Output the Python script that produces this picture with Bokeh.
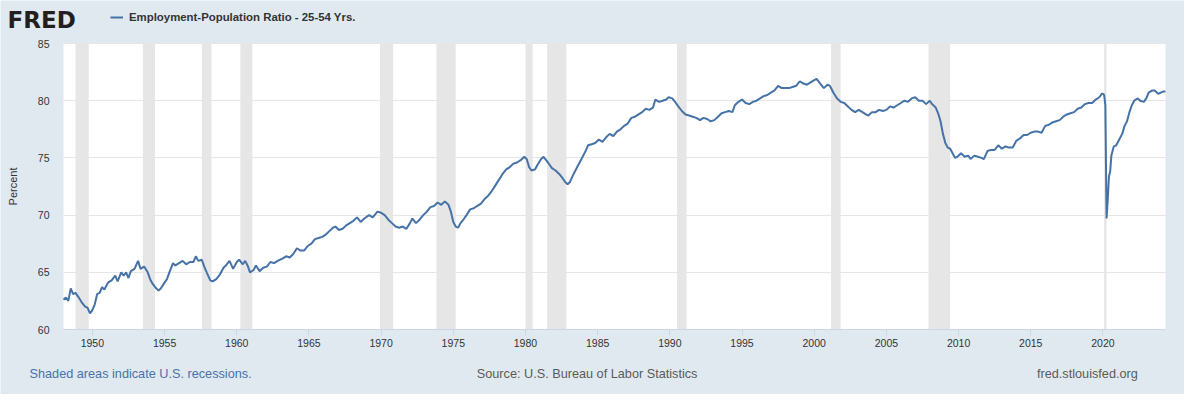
from bokeh.plotting import figure
from bokeh.models import Range1d, FixedTicker, Label, Legend, LegendItem, BoxAnnotation, ColumnDataSource
from bokeh.embed import file_html
from bokeh.resources import INLINE

# ---------------- data ----------------
obs = [
    "1948-01", "1948-03", "1948-05", "1948-07", "1948-09", "1948-11",
    "1949-01", "1949-04", "1949-07", "1949-09", "1949-11",
    "1950-01", "1950-03", "1950-05", "1950-07", "1950-09", "1950-11",
    "1951-02", "1951-05", "1951-08", "1951-10",
    "1952-01", "1952-03", "1952-05", "1952-07", "1952-09", "1952-12",
    "1953-03", "1953-05", "1953-08", "1953-11",
    "1954-01", "1954-03", "1954-06", "1954-08", "1954-10",
    "1955-01", "1955-03", "1955-05", "1955-08", "1955-10",
    "1956-01", "1956-04", "1956-07", "1956-10",
    "1957-01", "1957-03", "1957-05", "1957-08", "1957-10", "1957-12",
    "1958-03", "1958-05", "1958-08", "1958-11",
    "1959-02", "1959-04", "1959-07", "1959-10",
    "1960-01", "1960-03", "1960-06", "1960-08", "1960-10", "1960-12",
    "1961-03", "1961-05", "1961-08", "1961-11",
    "1962-02", "1962-05", "1962-08", "1962-11",
    "1963-03", "1963-06", "1963-09", "1963-12",
    "1964-03", "1964-06", "1964-09", "1964-12",
    "1965-03", "1965-06", "1965-09", "1965-12",
    "1966-03", "1966-06", "1966-09", "1966-11",
    "1967-02", "1967-05", "1967-08", "1967-11",
    "1968-02", "1968-05", "1968-08", "1968-11",
    "1969-03", "1969-06", "1969-10",
    "1970-01", "1970-04", "1970-07", "1970-10",
    "1971-01", "1971-04", "1971-07", "1971-10",
    "1972-01", "1972-03", "1972-06", "1972-09", "1972-12",
    "1973-03", "1973-06", "1973-09", "1973-12",
    "1974-03", "1974-06", "1974-09", "1974-11",
    "1975-01", "1975-03", "1975-05", "1975-07", "1975-10", "1975-12",
    "1976-03", "1976-06", "1976-09", "1976-12",
    "1977-03", "1977-06", "1977-09", "1977-12",
    "1978-03", "1978-06", "1978-09", "1978-12",
    "1979-03", "1979-06", "1979-09", "1979-12",
    "1980-02", "1980-04", "1980-06", "1980-09", "1980-11",
    "1981-02", "1981-04", "1981-07", "1981-09", "1981-11",
    "1982-02", "1982-05", "1982-08", "1982-10", "1982-12",
    "1983-02", "1983-05", "1983-08", "1983-11",
    "1984-01", "1984-03", "1984-05", "1984-08", "1984-11",
    "1985-02", "1985-05", "1985-08", "1985-11",
    "1986-02", "1986-05", "1986-08", "1986-11",
    "1987-02", "1987-05", "1987-08", "1987-11",
    "1988-02", "1988-05", "1988-08", "1988-11",
    "1989-01", "1989-04", "1989-07", "1989-10", "1989-12",
    "1990-03", "1990-06", "1990-08", "1990-11",
    "1991-02", "1991-05", "1991-08", "1991-11",
    "1992-02", "1992-05", "1992-08", "1992-11",
    "1993-02", "1993-05", "1993-08", "1993-11",
    "1994-02", "1994-05", "1994-07", "1994-10",
    "1995-01", "1995-04", "1995-07", "1995-10",
    "1996-01", "1996-04", "1996-07", "1996-10",
    "1997-01", "1997-04", "1997-07", "1997-10",
    "1998-01", "1998-04", "1998-07", "1998-10",
    "1999-01", "1999-04", "1999-07", "1999-10",
    "2000-01", "2000-03", "2000-06", "2000-09", "2000-12",
    "2001-02", "2001-05", "2001-08", "2001-11",
    "2002-02", "2002-05", "2002-08", "2002-11",
    "2003-02", "2003-05", "2003-08", "2003-10",
    "2004-01", "2004-04", "2004-07", "2004-10",
    "2005-01", "2005-04", "2005-07", "2005-10",
    "2006-01", "2006-04", "2006-07", "2006-10",
    "2007-01", "2007-04", "2007-07", "2007-10",
    "2008-01", "2008-03", "2008-06", "2008-08", "2008-10", "2008-12",
    "2009-02", "2009-04", "2009-06", "2009-08", "2009-10", "2009-12",
    "2010-03", "2010-06", "2010-09", "2010-11",
    "2011-02", "2011-05", "2011-08", "2011-10",
    "2012-01", "2012-04", "2012-07", "2012-10",
    "2013-01", "2013-04", "2013-07", "2013-10",
    "2014-01", "2014-04", "2014-07", "2014-10",
    "2015-01", "2015-04", "2015-07", "2015-10",
    "2016-01", "2016-04", "2016-07", "2016-10",
    "2017-01", "2017-04", "2017-07", "2017-10",
    "2018-01", "2018-04", "2018-07", "2018-10",
    "2019-01", "2019-04", "2019-07", "2019-10", "2019-12",
    "2020-01", "2020-02", "2020-03", "2020-04", "2020-05", "2020-06",
    "2020-07", "2020-08", "2020-10", "2020-12",
    "2021-02", "2021-05", "2021-07", "2021-09", "2021-11",
    "2022-01", "2022-03", "2022-06", "2022-08", "2022-11",
    "2023-01", "2023-03", "2023-06", "2023-08", "2023-11",
    "2024-01", "2024-03", "2024-05",
]

ratio = [
    62.6, 62.8, 62.5, 63.6, 63.1, 63.2,
    62.9, 62.4, 62.0, 61.9, 61.4,
    61.7, 62.2, 63.1, 63.2, 63.7, 63.5,
    64.1, 64.3, 64.7, 64.2,
    65.0, 64.7, 65.0, 64.5, 65.1, 65.3,
    66.0, 65.3, 65.5, 65.0,
    64.4, 64.0, 63.6, 63.4, 63.6,
    64.1, 64.4, 65.0, 65.8, 65.6,
    65.8, 66.0, 65.7, 65.9,
    65.9, 66.4, 66.0, 66.1, 65.5, 65.0,
    64.3, 64.2, 64.4, 64.8,
    65.4, 65.6, 66.0, 65.3,
    65.9, 66.1, 65.7, 66.0, 65.6, 65.0,
    65.2, 65.6, 65.1, 65.4,
    65.5, 65.9, 65.8, 66.0,
    66.2, 66.4, 66.3, 66.6,
    67.1, 66.9, 66.9, 67.3,
    67.5, 67.9, 68.0, 68.1,
    68.3, 68.6, 68.9, 69.0,
    68.7, 68.8, 69.1, 69.3,
    69.5, 69.8, 69.4, 69.7,
    70.0, 69.8, 70.3,
    70.2, 70.0, 69.6, 69.3,
    69.0, 68.9, 69.0, 68.8,
    69.3, 69.7, 69.3, 69.6, 70.0,
    70.3, 70.7, 70.8, 71.1,
    70.9, 71.2, 70.9, 70.3,
    69.4, 69.0, 68.9, 69.3, 69.7, 70.0,
    70.5, 70.6, 70.8, 71.0,
    71.4, 71.7, 72.1, 72.6,
    73.1, 73.6, 74.0, 74.2,
    74.5, 74.6, 74.8, 75.1,
    74.9, 74.2, 73.9, 74.0, 74.4,
    74.9, 75.1, 74.7, 74.4, 74.1,
    73.9, 73.6, 73.2, 72.9, 72.7,
    72.9, 73.6, 74.2, 74.8,
    75.2, 75.6, 76.1, 76.2, 76.3,
    76.6, 76.4, 76.8, 77.1,
    76.9, 77.3, 77.5, 77.8,
    78.0, 78.5, 78.6, 78.8,
    79.0, 79.3, 79.2, 79.4,
    80.1, 79.9, 80.0, 80.1, 80.3,
    80.2, 79.8, 79.5, 79.1,
    78.8, 78.7, 78.6, 78.5,
    78.3, 78.5, 78.4, 78.2,
    78.3, 78.6, 78.9, 79.0,
    79.1, 79.0, 79.6, 79.9,
    80.1, 79.8, 79.7, 79.9,
    80.0, 80.2, 80.4, 80.5,
    80.7, 80.9, 81.3, 81.1,
    81.1, 81.1, 81.2, 81.3,
    81.7, 81.5, 81.4, 81.6,
    81.8, 81.9, 81.5, 81.1, 81.4,
    81.3, 80.7, 80.2, 79.9,
    79.8, 79.5, 79.2, 79.0,
    79.2, 79.0, 78.8, 78.7,
    79.0, 79.0, 79.2, 79.1,
    79.2, 79.5, 79.4, 79.6,
    79.8, 80.0, 79.9, 80.2,
    80.3, 80.0, 80.0, 79.7,
    80.0, 79.7, 79.4, 78.9, 78.2, 77.1,
    76.3, 75.9, 75.8, 75.4, 75.0, 75.1,
    75.4, 75.1, 75.2, 74.9,
    75.2, 75.1, 75.0, 74.9,
    75.6, 75.7, 75.7, 76.1,
    75.8, 76.0, 75.9, 75.9,
    76.5, 76.7, 77.0, 77.0,
    77.2, 77.3, 77.3, 77.2,
    77.8, 77.9, 78.1, 78.2,
    78.3, 78.6, 78.8, 78.9,
    79.0, 79.3, 79.4, 79.7,
    79.8, 79.8, 80.1, 80.3, 80.6,
    80.6, 80.5, 79.6, 69.7, 71.4, 73.4,
    73.8, 75.2, 76.0, 76.1,
    76.5, 77.1, 77.8, 78.2, 79.0,
    79.6, 80.0, 80.2, 80.0, 79.9,
    80.2, 80.7, 80.9, 80.9, 80.6,
    80.7, 80.8, 80.8,
]

# NBER recessions (peak month, trough month)
rec_peaks = ["1948-11", "1953-07", "1957-08", "1960-04", "1969-12", "1973-11",
             "1980-01", "1981-07", "1990-07", "2001-03", "2007-12", "2020-02"]
rec_troughs = ["1949-10", "1954-05", "1958-04", "1961-02", "1970-11", "1975-03",
               "1980-07", "1982-11", "1991-03", "2001-11", "2009-06", "2020-04"]

tick_years = [1950, 1955, 1960, 1965, 1970, 1975, 1980, 1985, 1990, 1995,
              2000, 2005, 2010, 2015, 2020]
y_ticks = [60, 65, 70, 75, 80, 85]

series_name = "Employment-Population Ratio - 25-54 Yrs."
footnote = "Shaded areas indicate U.S. recessions."
source_text = "Source: U.S. Bureau of Labor Statistics"
site_text = "fred.stlouisfed.org"


def to_year(s):
    y, m = s.split("-")
    return int(y) + (int(m) - 1) / 12.0


xs = [to_year(s) for s in obs]
src = ColumnDataSource(dict(x=xs, y=ratio))

FONT = "Liberation Sans"
BG = "#e1e9f0"
LINE = "#4572a7"

# canvas geometry (pixels): the whole canvas is the frame, the plot area sits inside
W, H = 1184, 394
PL, PR, PT, PB = 63, 19, 43, 65
FW, FH = W - PL - PR, H - PT - PB
x0, x1 = xs[0], xs[-1]
y0, y1 = y_ticks[0], y_ticks[-1]
kx = FW / (x1 - x0)
ky = FH / (y1 - y0)

p = figure(
    width=W, height=H,
    x_range=Range1d(x0 - PL / kx, x1 + PR / kx),
    y_range=Range1d(y0 - PB / ky, y1 + PT / ky),
    output_backend="svg", toolbar_location=None, tools="",
    min_border=0, min_border_left=0, min_border_right=0,
    min_border_top=0, min_border_bottom=0,
    background_fill_color=BG, border_fill_color=BG,
)
p.outline_line_color = None

# white plot area
p.add_layout(BoxAnnotation(left=x0, right=x1, bottom=y0, top=y1,
                           fill_color="white", fill_alpha=1.0, line_alpha=0,
                           level="image"))

# horizontal grid lines
p.xgrid.visible = False
p.ygrid.ticker = FixedTicker(ticks=y_ticks)
p.ygrid.grid_line_color = "#e6e6e6"
p.ygrid.bounds = (y0, y1)
try:
    p.ygrid.cross_bounds = (x0, x1)
except Exception:
    p.ygrid.visible = False
    p.segment(x0=[x0] * len(y_ticks), x1=[x1] * len(y_ticks), y0=y_ticks, y1=y_ticks,
              line_color="#e6e6e6", line_width=1, level="underlay")

# recession shading
for a, b in zip(rec_peaks, rec_troughs):
    p.add_layout(BoxAnnotation(left=to_year(a), right=to_year(b), bottom=y0, top=y1,
                               fill_color="#e6e6e6", fill_alpha=1.0,
                               line_alpha=0, level="underlay"))

r = p.line("x", "y", source=src, line_color=LINE, line_width=2)

# axes pinned to the plot area
xa = p.xaxis[0]
xa.fixed_location = y0
xa.bounds = (x0, x1)
xa.ticker = FixedTicker(ticks=tick_years)
xa.major_label_overrides = {t: str(t) for t in tick_years}
xa.axis_line_color = "#ccd6eb"
xa.major_tick_line_color = "#ccd6eb"
xa.major_tick_out = 6
xa.major_tick_in = 0
xa.minor_tick_line_color = None
xa.minor_tick_out = 0
xa.major_label_standoff = 3
xa.major_label_text_font = FONT
xa.major_label_text_font_size = "10.5px"
xa.major_label_text_color = "#333333"

ya = p.yaxis[0]
ya.fixed_location = x0
ya.bounds = (y0, y1)
ya.ticker = FixedTicker(ticks=y_ticks)
ya.axis_line_color = None
ya.major_tick_line_color = None
ya.major_tick_out = 0
ya.major_tick_in = 0
ya.minor_tick_line_color = None
ya.minor_tick_out = 0
ya.minor_tick_in = 0
ya.major_label_standoff = 14
ya.major_label_text_font = FONT
ya.major_label_text_font_size = "10.5px"
ya.major_label_text_color = "#333333"
ya.axis_label = "Percent"
ya.axis_label_text_font = FONT
ya.axis_label_text_font_size = "11px"
ya.axis_label_text_font_style = "normal"
ya.axis_label_text_color = "#333333"
ya.axis_label_standoff = 16

# header: FRED logo + series legend
p.add_layout(Label(x=7, y=H - 19, x_units="screen", y_units="screen", text="FRED",
                   text_font="DejaVu Sans", text_font_size="23px", text_font_style="bold",
                   text_color="#231f20", text_baseline="middle", text_align="left"))
legend = Legend(
    items=[LegendItem(label=series_name, renderers=[r])],
    location=(110, H - 24), orientation="horizontal",
    padding=0, margin=0, spacing=0,
    glyph_width=13, glyph_height=14, label_height=14, label_standoff=6,
    label_text_font=FONT, label_text_font_size="11.4px", label_text_font_style="bold",
    label_text_color="#333333",
    background_fill_alpha=0, border_line_alpha=0,
)
p.add_layout(legend)

# footer
fy = H - 373
p.add_layout(Label(x=29, y=fy, x_units="screen", y_units="screen", text=footnote,
                   text_font=FONT, text_font_size="12.7px", text_color="#4a71a8",
                   text_baseline="middle", text_align="left"))
p.add_layout(Label(x=586.6, y=fy, x_units="screen", y_units="screen", text=source_text,
                   text_font=FONT, text_font_size="12.7px", text_color="#5a5a5a",
                   text_baseline="middle", text_align="center"))
p.add_layout(Label(x=1137.3, y=fy, x_units="screen", y_units="screen", text=site_text,
                   text_font=FONT, text_font_size="12.7px", text_color="#5a5a5a",
                   text_baseline="middle", text_align="right"))

open("out.html", "w").write(file_html(p, INLINE))
